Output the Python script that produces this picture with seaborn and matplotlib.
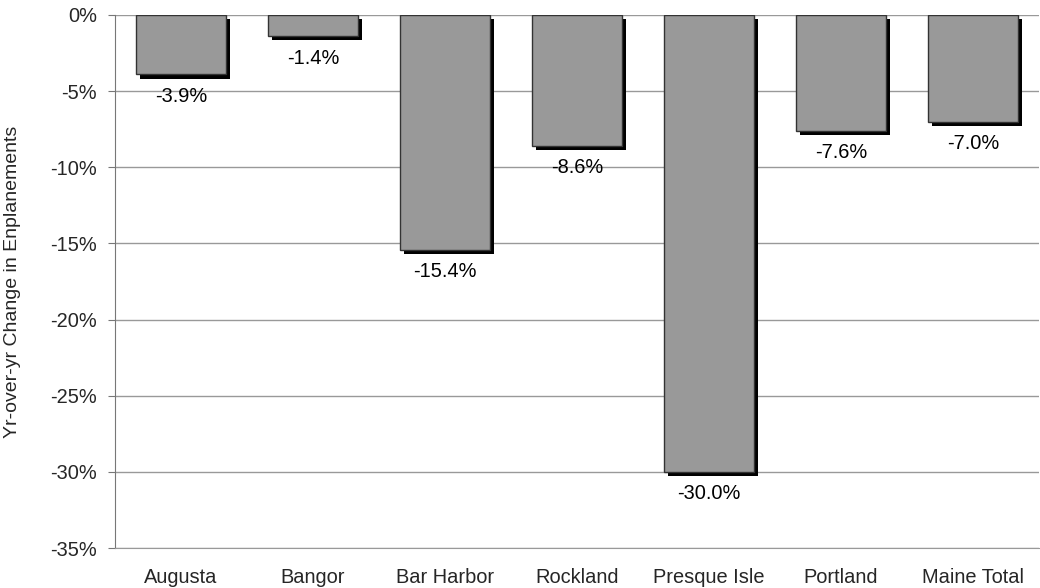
import matplotlib
matplotlib.use("Agg")
import matplotlib.pyplot as plt
import matplotlib.patheffects as pe
from matplotlib.ticker import FuncFormatter, MultipleLocator
import seaborn as sns
import pandas as pd

airports = ["Augusta", "Bangor", "Bar Harbor", "Rockland", "Presque Isle", "Portland", "Maine Total"]
change_pct = [-3.9, -1.4, -15.4, -8.6, -30.0, -7.6, -7.0]

df = pd.DataFrame({"airport": airports, "change": change_pct})

sns.set_style("white")
plt.rcParams["font.family"] = ["Liberation Sans", "DejaVu Sans"]

FS = 14.4

fig = plt.figure(figsize=(10.4, 5.88), dpi=100)
ax = fig.add_axes([0.1106, 0.068, 0.8885, 0.9065])

sns.barplot(data=df, x="airport", y="change", color="#999999", saturation=1,
            edgecolor="#333333", linewidth=1.0, width=0.68, ax=ax, zorder=3)

# drop shadow offset down and to the right of each bar
for bar in ax.patches:
    bar.set_path_effects([
        pe.SimplePatchShadow(offset=(3, -3), shadow_rgbFace="black", alpha=1.0),
        pe.Normal(),
    ])

for container in ax.containers:
    ax.bar_label(container, labels=[f"{v:.1f}%" for v in change_pct],
                 padding=9, fontsize=FS, color="black", zorder=4)

ax.set_ylim(-35, 0)
ax.set_xlim(-0.5, len(airports) - 0.5)
ax.yaxis.set_major_locator(MultipleLocator(5))
ax.yaxis.set_major_formatter(FuncFormatter(lambda v, _: f"{v:.0f}%"))
ax.grid(axis="y", color="#999999", linewidth=1.0, zorder=0)
ax.set_axisbelow(True)

for side in ["top", "right"]:
    ax.spines[side].set_visible(False)
ax.spines["left"].set_color("#777777")
ax.spines["bottom"].set_color("#999999")

ax.tick_params(axis="y", left=True, length=5, color="#777777", labelsize=FS, pad=8)
ax.tick_params(axis="x", bottom=False, labelsize=FS, pad=11)

ax.set_xlabel("")
ax.set_ylabel("Yr-over-yr Change in Enplanements", fontsize=14.0, labelpad=21)

fig.savefig("out.png", dpi=100)
